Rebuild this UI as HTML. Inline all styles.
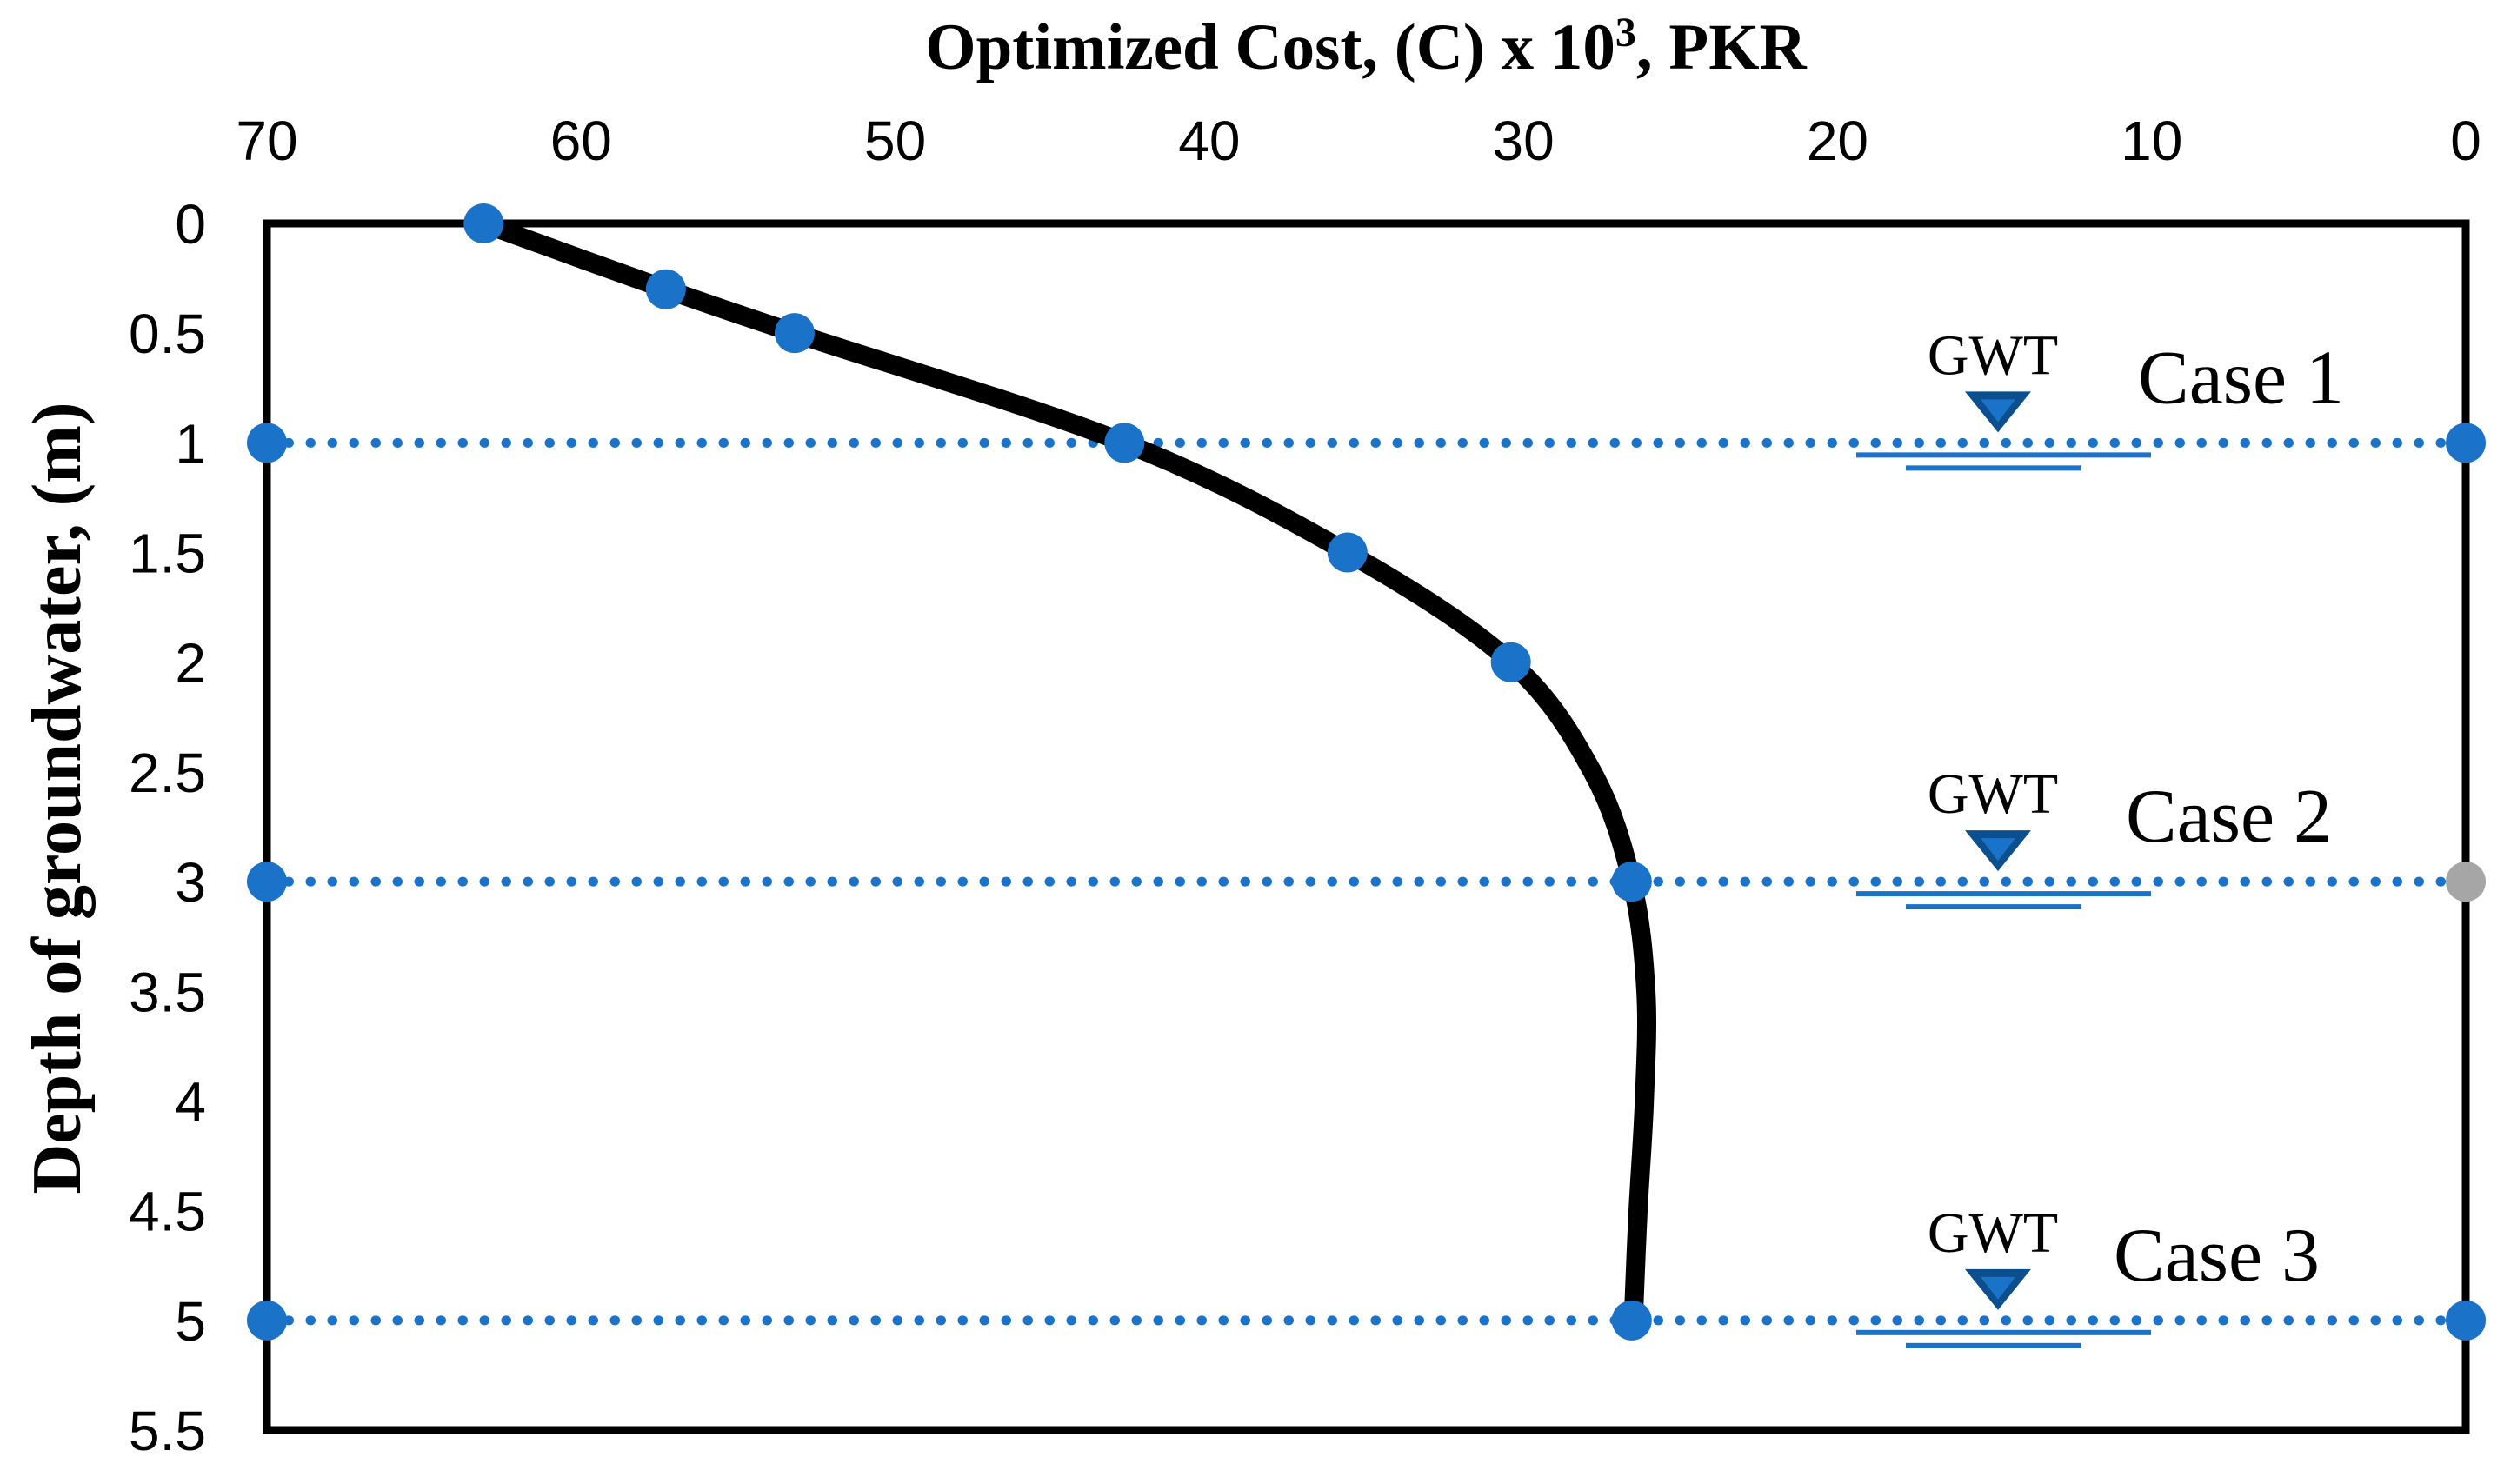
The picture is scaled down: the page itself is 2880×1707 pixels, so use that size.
<!DOCTYPE html>
<html><head><meta charset="utf-8"><style>
html,body{margin:0;padding:0;background:#fff;}
svg{display:block;}
.tick{font-family:"Liberation Sans",sans-serif;font-size:64px;fill:#000;}
.ttl{font-family:"Liberation Serif",serif;font-weight:bold;fill:#000;}
.lab{font-family:"Liberation Serif",serif;fill:#000;}
</style></head><body>
<svg id="chart" width="2880" height="1707" viewBox="0 0 2880 1707" xmlns="http://www.w3.org/2000/svg">
<text class="ttl" x="1571" y="79" font-size="75" text-anchor="middle">Optimized Cost, (C) x 10<tspan font-size="48" dy="-26">3</tspan><tspan dy="26">, PKR</tspan></text>
<text class="ttl" transform="translate(92,918) rotate(-90)" font-size="80" text-anchor="middle">Depth of groundwater, (m)</text>
<g id="ticks"></g>
<g id="marks"></g>
<rect x="307" y="257" width="2529" height="1388" fill="none" stroke="#000" stroke-width="9"/>
<g id="markers"></g>
</svg>
<script>
const xTicks = [70,60,50,40,30,20,10,0];
const yTicks = [0,0.5,1,1.5,2,2.5,3,3.5,4,4.5,5,5.5];
const lineDepth = [0,0.3,0.5,1,1.5,2,2.5,3,3.5,4,4.5,5];
const lineCost = [63.1,57.3,53.2,42.7,35.6,30.4,27.8,26.55,26.1,26.15,26.35,26.5];
const markerDepth = [0,0.3,0.5,1,1.5,2,3,5];
const markerCost = [63.1,57.3,53.2,42.7,35.6,30.4,26.55,26.55];
const caseDepths = [1,3,5];
const caseNames = ["Case 1","Case 2","Case 3"];
const endColors = ["#1a73c8","#a6a6a6","#1a73c8"];

const X0=307, X1=2836, Y0=257, Y1=1645;
const xs = v => X1 - (v/70)*(X1-X0);
const ys = d => Y0 + (d/5.5)*(Y1-Y0);
const NS="http://www.w3.org/2000/svg";
const BLUE="#1a73c8";
function mk(tag, attrs, parent){const e=document.createElementNS(NS,tag);for(const k in attrs)e.setAttribute(k,attrs[k]);parent.appendChild(e);return e;}
const ticks=document.getElementById('ticks'), marks=document.getElementById('marks'), markers=document.getElementById('markers');

xTicks.forEach(v=>{
  const t=mk('text',{class:'tick',x:xs(v),y:184,'text-anchor':'middle'},ticks);
  
  
  t.textContent=v;
});
yTicks.forEach(v=>{
  const t=mk('text',{class:'tick',x:237,y:ys(v)+23,'text-anchor':'end'},ticks);
  
  
  t.textContent=v;
});

caseDepths.forEach((d,i)=>{
  const y=ys(d);
  const l=mk('line',{x1:xs(70),y1:y,x2:xs(0),y2:y,stroke:BLUE,'stroke-width':11,'stroke-linecap':'round','stroke-dasharray':'0.5 24.5'},marks);
  
  
  const cx=2298;
  const g=mk('g',{},marks);
  
  
  const gt=mk('text',{class:'lab',x:cx-6,y:y-79,'font-size':66,'text-anchor':'middle'},g);
  gt.textContent='GWT';
  mk('polygon',{points:`${cx-38},${y-59} ${cx+38},${y-59} ${cx},${y-12}`,fill:'#0b4f8f'},g);
  mk('polygon',{points:`${cx-20},${y-50} ${cx+20},${y-50} ${cx},${y-24}`,fill:BLUE},g);
  mk('rect',{x:2135,y:y+11,width:339,height:6,fill:BLUE},g);
  mk('rect',{x:2192,y:y+26,width:202,height:6,fill:BLUE},g);
  const ct=mk('text',{class:'lab',x:2459-i*14,y:y-46,'font-size':88},marks);
  
  
  ct.textContent=caseNames[i];
  [[70,BLUE],[0,endColors[i]]].forEach(([v,c])=>{
    const m=mk('ellipse',{cx:xs(v),cy:y,rx:23,ry:23,fill:c},markers);
    
    
  });
});

const P=lineDepth.map((d,i)=>[xs(lineCost[i]),ys(d)]);
let dstr=`M${P[0][0]},${P[0][1]}`;
for(let i=0;i<P.length-1;i++){
  const p0=P[Math.max(0,i-1)],p1=P[i],p2=P[i+1],p3=P[Math.min(P.length-1,i+2)];
  const c1=[p1[0]+(p2[0]-p0[0])/6,p1[1]+(p2[1]-p0[1])/6];
  const c2=[p2[0]-(p3[0]-p1[0])/6,p2[1]-(p3[1]-p1[1])/6];
  dstr+=` C${c1[0]},${c1[1]} ${c2[0]},${c2[1]} ${p2[0]},${p2[1]}`;
}
const path=mk('path',{d:dstr,fill:'none',stroke:'#000','stroke-width':22,'stroke-linejoin':'round'},marks);



markerDepth.forEach((d,i)=>{
  const m=mk('ellipse',{cx:xs(markerCost[i]),cy:ys(d),rx:23,ry:23,fill:BLUE},markers);
  
  
});
</script>
</body></html>
